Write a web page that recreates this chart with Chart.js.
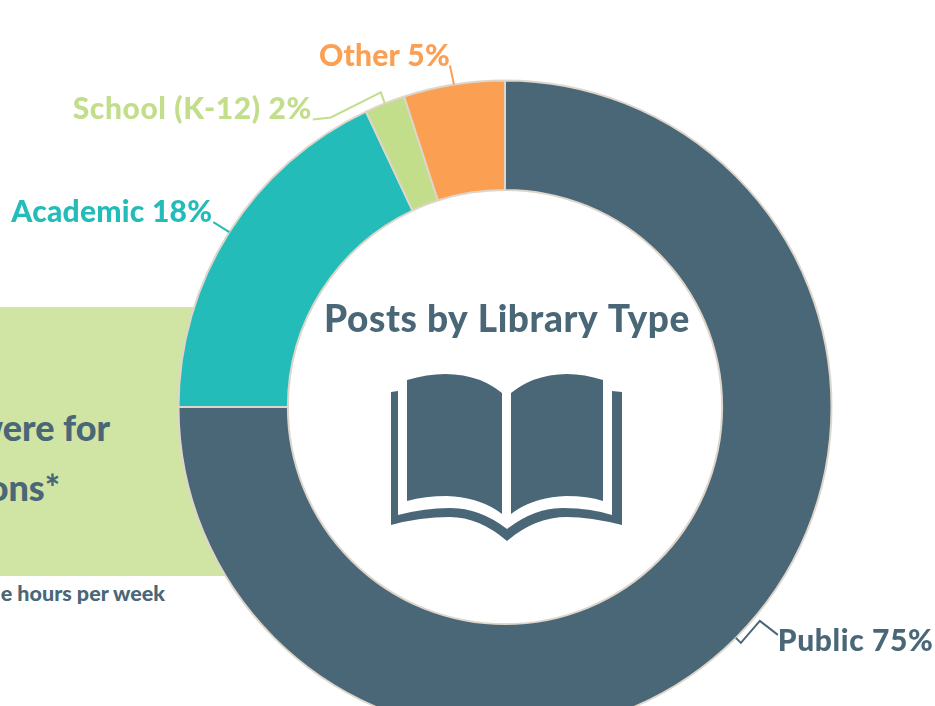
<!DOCTYPE html>
<html>
<head>
<meta charset="utf-8">
<title>Posts by Library Type</title>
<script src="https://cdn.jsdelivr.net/npm/chart.js@4/dist/chart.umd.min.js"></script>
<style>
    html, body { margin: 0; width: 935px; height: 706px; overflow: hidden; background: #fff; }
    body { position: relative; font-family: Lato, sans-serif; font-weight: 900; color: #4a6778; }
    #panel { position: absolute; left: 0; top: 307px; width: 250px; height: 269px; background: #d0e4a4; }
    .note { position: absolute; white-space: nowrap; line-height: 1; }
    #line1 { right: 825px; top: 409px; font-size: 36px; }
    #line2 { right: 875px; top: 469px; font-size: 36px; }
    #line3 { right: 770px; top: 583px; font-size: 21.5px; }
    #chart-wrap { position: absolute; left: 0; top: 0; }
    #book { position: absolute; left: 0; top: 0; }
</style>
</head>
<body>
<div id="panel"></div>
<div class="note" id="line1">were for</div>
<div class="note" id="line2">ons*</div>
<div class="note" id="line3">e hours per week</div>
<div id="chart-wrap"><canvas id="chart" width="1010" height="814"></canvas></div>
<svg id="book" width="935" height="706" fill="#4a6778">
    <path d="M407 380 Q447 368 480 380 Q492 385 502 393 L502 514 Q480 497 447 496 Q425 496 407 501 Z"/>
    <path d="M603 380 Q566 368 533 380 Q521 385 511 393 L511 514 Q533 497 566 496 Q588 496 603 501 Z"/>
    <path d="M391 392 L398 391 L398 515 Q425 508 450 508 Q480 508 507 529 Q534 508 563 508 Q590 508 612 515 L612 391 L622 392 L622 525 Q590 517 567 517 Q535 517 507 541 Q479 517 450 517 Q420 517 391 525 Z"/>
</svg>
<script>
// Данные
const categories = ['Public', 'Academic', 'School (K-12)', 'Other'];
const shares = [75, 18, 2, 5];
const sliceColors = ['#4a6778', '#24bcb9', '#c2de8a', '#fba053'];
const chartTitle = 'Posts by Library Type';

// Линии-выноски: смещения от середины дуги и положение подписи
const leaders = [
    { path: [[5, 5], [24, -17], [42, -3]], textX: 42, textY: 13, align: 'left', spacing: '0.6px' },
    { path: [[-16, -10]], textX: -17, textY: -10, align: 'right', spacing: '0.25px' },
    { path: [[-4, -11], [-54, 14], [-72, 16]], textX: -73, textY: 16, align: 'right', spacing: '0.6px' },
    { path: [[-4, -19]], textX: -4, textY: -19, align: 'right', spacing: '0.2px' }
];

// Подписи и заголовок в центре
const labelPlugin = {
    id: 'labelPlugin',
    afterDatasetsDraw(chart) {
        const ctx = chart.ctx;
        const arcs = chart.getDatasetMeta(0).data;

        ctx.save();
        arcs.forEach((arc, i) => {
            const mid = (arc.startAngle + arc.endAngle) / 2;
            const ax = arc.x + Math.cos(mid) * arc.outerRadius;
            const ay = arc.y + Math.sin(mid) * arc.outerRadius;
            const leader = leaders[i];

            ctx.strokeStyle = sliceColors[i];
            ctx.lineWidth = 2;
            ctx.beginPath();
            ctx.moveTo(ax, ay);
            leader.path.forEach(p => ctx.lineTo(ax + p[0], ay + p[1]));
            ctx.stroke();

            ctx.fillStyle = sliceColors[i];
            ctx.font = '900 30px Lato';
            ctx.letterSpacing = leader.spacing;
            ctx.textAlign = leader.align;
            ctx.textBaseline = 'alphabetic';
            ctx.fillText(categories[i] + ' ' + shares[i] + '%', ax + leader.textX, ay + leader.textY);
        });

        ctx.fillStyle = sliceColors[0];
        ctx.font = '900 37px Lato';
        ctx.letterSpacing = '0.6px';
        ctx.textAlign = 'center';
        ctx.fillText(chartTitle, arcs[0].x + 2, arcs[0].y - 75);
        ctx.restore();
    }
};

new Chart(document.getElementById('chart').getContext('2d'), {
    type: 'doughnut',
    data: {
        labels: categories,
        datasets: [{
            data: shares,
            backgroundColor: sliceColors,
            borderColor: '#ded6ca',
            borderWidth: 2
        }]
    },
    options: {
        responsive: false,
        animation: false,
        cutout: '66.5%',
        layout: { padding: 79.5 },
        plugins: {
            legend: { display: false },
            tooltip: { enabled: false }
        }
    },
    plugins: [labelPlugin]
});
</script>
</body>
</html>
